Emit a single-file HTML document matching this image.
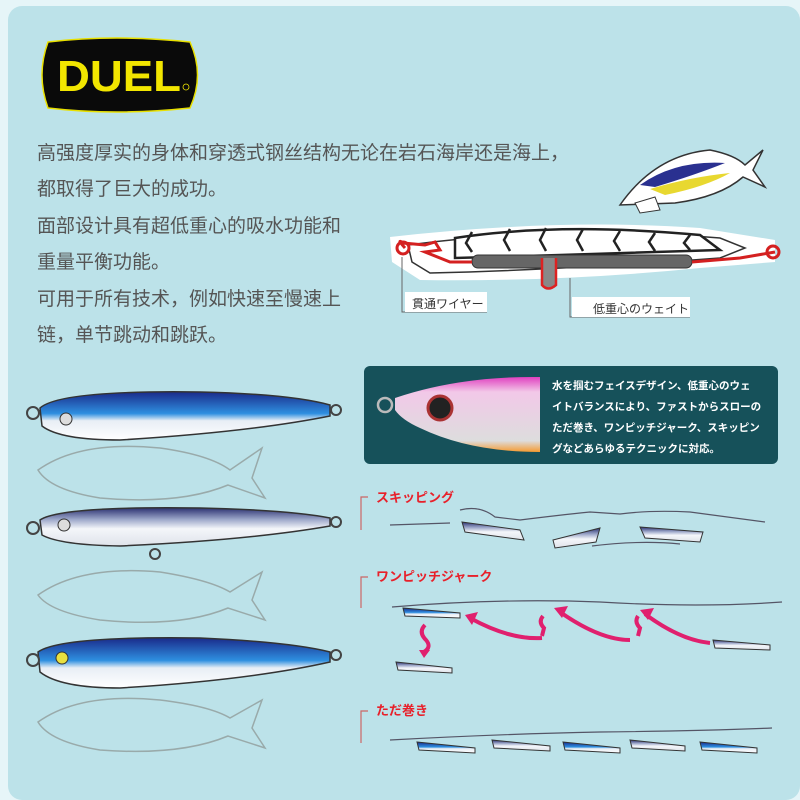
<!DOCTYPE html>
<html><head><meta charset="utf-8"><style>
body{margin:0;width:800px;height:800px;overflow:hidden;background:#e6f5f8}
svg{display:block}
.t{font-family:"Liberation Sans","Noto Sans CJK SC",sans-serif;font-size:19px;fill:#555}
.j{font-family:"Liberation Sans","Noto Sans CJK JP",sans-serif}
</style></head><body>
<svg width="800" height="800" viewBox="0 0 800 800" xmlns="http://www.w3.org/2000/svg">
<defs>
<linearGradient id="bl" x1="0" y1="0" x2="0" y2="1">
<stop offset="0" stop-color="#1a2a8a"/><stop offset="0.45" stop-color="#2e8fe0"/><stop offset="0.6" stop-color="#e8eef5"/><stop offset="1" stop-color="#fff"/></linearGradient>
<linearGradient id="sv" x1="0" y1="0" x2="0" y2="1">
<stop offset="0" stop-color="#2a3070"/><stop offset="0.3" stop-color="#9aa5c8"/><stop offset="0.55" stop-color="#f4f6fa"/><stop offset="1" stop-color="#dfe3ea"/></linearGradient>
<linearGradient id="pk" x1="0" y1="0" x2="0" y2="1">
<stop offset="0" stop-color="#e040c0"/><stop offset="0.2" stop-color="#f2c8e8"/><stop offset="0.85" stop-color="#ddd"/><stop offset="1" stop-color="#f59a30"/></linearGradient>
</defs>
<rect x="0" y="0" width="800" height="800" fill="#e6f5f8"/>
<rect x="8" y="6" width="792" height="794" rx="14" fill="#bce2e9"/>
<!-- logo -->
<path d="M48 42 Q115 34 190 42 Q205 75 190 108 Q115 116 48 108 Q36 75 48 42Z" fill="#0a0a0a" stroke="#e8e000" stroke-width="1.5"/>
<text x="57" y="91" font-family="Liberation Sans,sans-serif" font-weight="bold" font-size="44" fill="#f2e600" textLength="124" lengthAdjust="spacingAndGlyphs">DUEL</text>
<circle cx="186" cy="87" r="3" fill="none" stroke="#f2e600" stroke-width="0.8"/>
<!-- left text -->
<text class="t" x="37" y="159">高强度厚实的身体和穿透式钢丝结构无论在岩石海岸还是海上，</text>
<text class="t" x="37" y="195">都取得了巨大的成功。</text>
<text class="t" x="37" y="232">面部设计具有超低重心的吸水功能和</text>
<text class="t" x="37" y="268">重量平衡功能。</text>
<text class="t" x="37" y="305">可用于所有技术，例如快速至慢速上</text>
<text class="t" x="37" y="341">链，单节跳动和跳跃。</text>
<!-- tuna -->
<g transform="translate(615,125)">
<path d="M5 80 Q40 30 95 25 Q120 30 130 40 L148 25 L138 45 L150 62 L128 52 Q105 72 60 78 Z" fill="#fff" stroke="#333" stroke-width="1.5"/>
<path d="M25 60 Q60 35 110 38 Q80 50 40 62Z" fill="#2a3090"/>
<path d="M35 64 Q75 52 115 48 Q90 62 50 70Z" fill="#e8d830"/>
<path d="M20 78 L40 72 L45 85 L25 88Z" fill="#fff" stroke="#333"/>
</g>
<!-- cross-section -->
<path d="M390 237 Q560 218 700 228 L775 240 L775 262 L700 268 Q560 282 420 280 L392 262 Z" fill="#fff"/>
<path d="M408 245 Q560 225 720 238 L745 248 L720 258 Q560 270 430 273 L412 262Z" fill="#fff" stroke="#333" stroke-width="1.5"/>
<path d="M455 238 Q560 222 700 235 L720 250 L560 255 L455 258Z" fill="#fff" stroke="#222" stroke-width="2.5"/>
<g stroke="#222" stroke-width="2.5" fill="none">
<path d="M472 232 L466 243 L472 252"/><path d="M510 229 L504 240 L510 251"/><path d="M546 228 L540 240 L546 251"/><path d="M583 229 L577 240 L583 251"/><path d="M620 231 L614 241 L620 251"/><path d="M655 233 L649 242 L655 251"/><path d="M690 235 L684 243 L690 250"/>
</g>
<rect x="472" y="255" width="220" height="13" rx="6" fill="#666" stroke="#333"/>
<path d="M542 258 L542 285 Q548 292 556 285 L556 258" fill="#888" stroke="#d22" stroke-width="2.5"/>
<path d="M405 248 Q396 238 403 243 L425 245 L435 242 L440 250 L425 252 L450 262 L472 262 M692 262 L740 258 L775 252" fill="none" stroke="#d42020" stroke-width="3"/>
<circle cx="403" cy="248" r="6" fill="none" stroke="#d42020" stroke-width="3"/>
<circle cx="773" cy="252" r="6" fill="none" stroke="#d42020" stroke-width="3"/>
<path d="M402 257 L402 312 L487 312 M570 278 L570 317 L690 317" fill="none" stroke="#666"/>
<rect x="405" y="292" width="82" height="20" fill="#fff"/>
<rect x="572" y="297" width="118" height="20" fill="#fff"/>
<text class="j" x="412" y="308" font-size="12" fill="#333">貫通ワイヤー</text>
<text class="j" x="593" y="313" font-size="12" fill="#333">低重心のウェイト</text>
<!-- dark box -->
<rect x="364" y="366" width="414" height="98" rx="6" fill="#16515a"/>
<path d="M395 398 Q460 376 540 377 L540 452 Q470 452 420 428 Q402 420 395 410Z" fill="url(#pk)"/>
<circle cx="385" cy="405" r="7" fill="none" stroke="#bbb" stroke-width="2.5"/>
<circle cx="440" cy="408" r="12" fill="#222" stroke="#a33" stroke-width="3"/>
<g class="j" font-size="10.5" fill="#fff" font-weight="bold">
<text x="552" y="389">水を掴むフェイスデザイン、低重心のウェ</text>
<text x="552" y="410">イトバランスにより、ファストからスローの</text>
<text x="552" y="431">ただ巻き、ワンピッチジャーク、スキッピン</text>
<text x="552" y="452">グなどあらゆるテクニックに対応。</text>
</g>
<!-- big lures -->
<g>
<circle cx="33" cy="413" r="6" fill="none" stroke="#444" stroke-width="2"/>
<path d="M40 408 Q60 390 200 392 Q290 394 330 405 L330 416 Q250 432 120 440 Q60 440 42 426Z" fill="url(#bl)" stroke="#333" stroke-width="1.5"/>
<circle cx="66" cy="419" r="6" fill="#ddd" stroke="#333"/><circle cx="336" cy="410" r="5" fill="none" stroke="#444" stroke-width="2"/>
<path d="M40 520 Q60 506 200 508 Q290 510 330 518 L330 526 Q250 540 120 546 Q60 545 42 535Z" fill="url(#sv)" stroke="#333" stroke-width="1.5"/>
<circle cx="33" cy="528" r="6" fill="none" stroke="#444" stroke-width="2"/><circle cx="336" cy="522" r="5" fill="none" stroke="#444" stroke-width="2"/>
<circle cx="64" cy="525" r="6" fill="#ddd" stroke="#333"/><circle cx="155" cy="554" r="5" fill="none" stroke="#444" stroke-width="2"/>
<path d="M38 652 Q60 636 200 638 Q290 642 330 652 L330 662 Q250 680 120 688 Q60 688 40 672Z" fill="url(#bl)" stroke="#333" stroke-width="1.5"/>
<circle cx="33" cy="660" r="6" fill="none" stroke="#444" stroke-width="2"/><circle cx="336" cy="655" r="5" fill="none" stroke="#444" stroke-width="2"/>
<circle cx="62" cy="658" r="6" fill="#e8e040" stroke="#333"/>
</g>
<!-- fish outlines -->
<g fill="none" stroke="#9aa" stroke-width="1.5">
<path d="M38 470 Q80 440 160 448 Q210 455 230 470 L262 448 L252 478 L265 498 L228 485 Q180 505 100 498 Q50 490 38 470Z"/>
<path d="M38 595 Q80 565 160 572 Q210 580 230 592 L262 572 L252 600 L265 620 L228 608 Q180 628 100 620 Q50 612 38 595Z"/>
<path d="M38 722 Q80 692 160 700 Q210 706 230 718 L262 700 L252 728 L265 748 L228 736 Q180 756 100 750 Q50 742 38 722Z"/>
</g>
<!-- techniques -->
<g stroke="#c66" stroke-width="1.2" fill="none">
<path d="M361 530 L361 497 L368 497"/><path d="M361 608 L361 577 L368 577"/><path d="M361 743 L361 711 L368 711"/>
</g>
<g class="j" font-size="13" fill="#e8202a" font-weight="bold">
<text x="376" y="502">スキッピング</text>
<text x="376" y="581">ワンピッチジャーク</text>
<text x="376" y="715">ただ巻き</text>
</g>
<g fill="none" stroke="#556" stroke-width="1.2">
<path d="M390 525 L450 523 M460 510 Q480 505 495 517 L520 520 Q560 515 590 512 L620 514 Q650 510 690 512 L765 522"/>
<path d="M592 546 Q640 540 680 544"/>
<path d="M392 607 Q500 598 600 602 Q700 608 782 602"/>
<path d="M390 740 Q500 734 600 732 Q700 731 772 728"/>
</g>
<g fill="url(#sv)" stroke="#333">
<path d="M462 522 L520 530 L524 540 L465 532Z"/><path d="M553 540 L600 528 L596 542 L555 548Z"/><path d="M640 527 L703 532 L700 542 L645 538Z"/>
<path d="M396 662 L452 668 L452 673 L398 670Z"/><path d="M713 640 L770 645 L770 650 L715 648Z"/>
<path d="M492 740 L550 746 L550 751 L494 748Z"/><path d="M630 740 L685 746 L685 751 L632 748Z"/>
</g>
<g fill="url(#bl)" stroke="#333">
<path d="M403 608 L460 613 L460 618 L405 616Z"/>
<path d="M417 742 L475 748 L475 753 L419 750Z"/><path d="M563 742 L620 748 L620 753 L565 750Z"/><path d="M700 742 L757 748 L757 753 L702 750Z"/>
</g>
<g fill="none" stroke="#e0206e" stroke-width="4">
<path d="M542 638 Q510 640 470 618"/><path d="M630 640 Q600 640 560 612"/><path d="M710 643 Q680 640 645 614"/>
<path d="M425 625 Q418 632 426 640 Q432 647 424 652"/><path d="M543 616 Q538 622 544 628 L542 636"/><path d="M638 616 Q634 622 640 628 L638 636"/>
</g>
<g fill="#e0206e"><path d="M465 615 L478 612 L472 625Z"/><path d="M554 608 L568 606 L562 618Z"/><path d="M640 610 L654 608 L648 620Z"/><path d="M419 650 L430 650 L424 658Z"/></g>
</svg>
</body></html>
